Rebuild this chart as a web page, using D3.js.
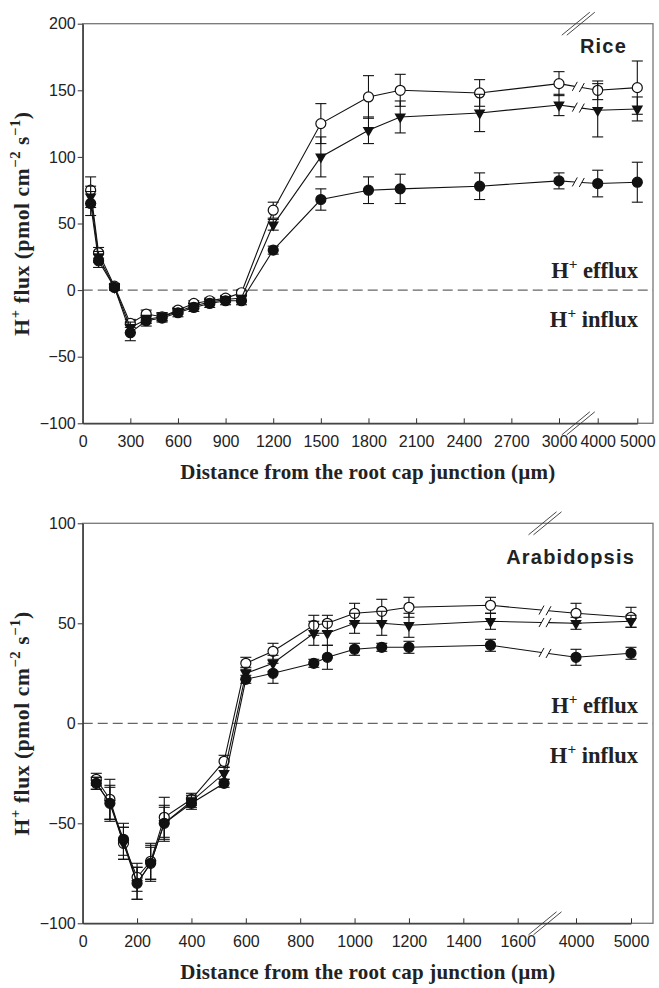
<!DOCTYPE html>
<html>
<head>
<meta charset="utf-8">
<script src="https://cdn.jsdelivr.net/npm/d3@7"></script>
<style>
  body { margin: 0; background: #fff; }
  .tick text { font-family: "Liberation Sans", Arial, sans-serif; font-size: 16px; fill: #222; }
  .lbl { font-family: "Liberation Serif", "Times New Roman", serif; font-weight: bold; fill: #222; }
  .species { font-family: "Liberation Sans", Arial, sans-serif; font-weight: bold; fill: #222; }
</style>
</head>
<body>
<div id="chart"></div>
<script>
// ---- Rice (top panel) ----
const riceX       = [50, 100, 200, 300, 400, 500, 600, 700, 800, 900, 1000, 1200, 1500, 1800, 2000, 2500, 3000, 4000, 5000];
const riceOpen    = [75, 28, 3, -25, -18, -20, -15, -10, -8, -6, -2, 60, 125, 145, 150, 148, 155, 150, 152];
const riceOpenErr = [10, 4, 2, 3, 3, 3, 2, 2, 2, 2, 2, 6, 15, 16, 12, 10, 9, 7, 20];
const riceTri     = [70, 25, 2, -28, -22, -20, -16, -12, -9, -7, -6, 49, 100, 120, 130, 133, 139, 135, 136];
const riceTriErr  = [8, 4, 2, 4, 3, 3, 2, 2, 2, 2, 2, 4, 15, 10, 12, 14, 8, 20, 9];
const riceFill    = [65, 22, 2, -32, -23, -21, -17, -13, -10, -8, -8, 30, 68, 75, 76, 78, 82, 80, 81];
const riceFillErr = [9, 5, 2, 6, 4, 3, 3, 3, 3, 3, 3, 3, 8, 10, 11, 10, 6, 10, 15];
const riceXTicks  = [0, 300, 600, 900, 1200, 1500, 1800, 2100, 2400, 2700, 3000, 4000, 5000];
const riceYTicks  = [-100, -50, 0, 50, 100, 150, 200];

// ---- Arabidopsis (bottom panel) ----
const araX       = [50, 100, 150, 200, 250, 300, 400, 520, 600, 700, 850, 900, 1000, 1100, 1200, 1500, 4000, 5000];
const araOpen    = [-28, -38, -60, -77, -69, -47, -38, -19, 30, 36, 49, 50, 55, 56, 58, 59, 55, 53];
const araOpenErr = [3, 10, 8, 7, 9, 10, 3, 3, 3, 4, 5, 4, 5, 6, 5, 4, 5, 5];
const araTri     = [-30, -40, -60, -80, -70, -50, -39, -25, 25, 30, 45, 45, 50, 50, 49, 51, 50, 51];
const araTriErr  = [3, 9, 8, 8, 9, 9, 3, 3, 3, 4, 6, 6, 5, 6, 6, 4, 3, 3];
const araFill    = [-30, -40, -58, -80, -70, -50, -40, -30, 22, 25, 30, 33, 37, 38, 38, 39, 33, 35];
const araFillErr = [3, 8, 8, 8, 8, 8, 3, 2, 2, 5, 2, 6, 3, 2, 3, 3, 4, 3];
const araXTicks  = [0, 200, 400, 600, 800, 1000, 1200, 1400, 1600, 4000, 5000];
const araYTicks  = [-100, -50, 0, 50, 100];

const W = 659, H = 988;
const svg = d3.select('#chart').append('svg')
  .attr('width', W).attr('height', H);

// superscript helper: parts = [[text, isSup], ...]
function richText(sel, parts, size) {
  parts.forEach(([t, sup], i) => {
    const prevSup = i > 0 && parts[i - 1][1];
    let dy = 0;
    if (sup && !prevSup) dy = -size * 0.42;
    if (!sup && prevSup) dy = size * 0.42;
    sel.append('tspan')
      .attr('dy', dy)
      .attr('font-size', sup ? size * 0.68 : size)
      .text(t);
  });
}

function drawPanel(p) {
  const g = svg.append('g');
  const x = d3.scaleLinear().domain(p.xDomain).range(p.xRange);
  const y = d3.scaleLinear().domain([p.yTicks[0], p.yTicks[p.yTicks.length - 1]]).range([p.bottom, p.top]);
  const left = p.xRange[0], right = p.right;

  // frame (top + right in gray)
  g.append('rect')
    .attr('x', left).attr('y', p.top)
    .attr('width', right - left).attr('height', p.bottom - p.top)
    .attr('fill', 'none').attr('stroke', '#777').attr('stroke-width', 1.3);

  // zero dashed line
  g.append('line')
    .attr('x1', left).attr('x2', right)
    .attr('y1', y(0)).attr('y2', y(0))
    .attr('stroke', '#666').attr('stroke-width', 1.2)
    .attr('stroke-dasharray', '10,5');

  // axes
  const yAxis = g.append('g')
    .attr('transform', `translate(${left},0)`)
    .call(d3.axisLeft(y).tickValues(p.yTicks).tickSize(5).tickSizeOuter(0).tickPadding(2));
  const xAxis = g.append('g')
    .attr('transform', `translate(0,${p.bottom})`)
    .call(d3.axisBottom(x).tickValues(p.xTicks).tickSize(-5).tickSizeOuter(0).tickPadding(12)
      .tickFormat(d3.format('d')));
  [yAxis, xAxis].forEach(a => {
    a.select('.domain').attr('stroke', '#333').attr('stroke-width', 1.3);
    a.selectAll('.tick line').attr('stroke', '#333').attr('stroke-width', 1);
  });
  xAxis.selectAll('.tick').filter(d => d === 0).select('line').remove();

  // "//" marks on top border and x axis
  [p.top, p.bottom].forEach(yy => {
    [-2.5, 2.5].forEach(off => {
      g.append('line')
        .attr('x1', p.breakX - 14 + off).attr('y1', yy + 11.5)
        .attr('x2', p.breakX + 14 + off).attr('y2', yy - 11.5)
        .attr('stroke', '#333').attr('stroke-width', 0.9);
    });
  });

  // series
  const series = [
    { ys: p.open, err: p.openErr, kind: 'open' },
    { ys: p.tri,  err: p.triErr,  kind: 'tri' },
    { ys: p.fill, err: p.fillErr, kind: 'fill' }
  ];
  const line = d3.line();
  const gap = 3.5;

  series.forEach(s => {
    const pts = p.xs.map((d, i) => [x(d), y(s.ys[i])]);
    const i = pts.findIndex(pt => pt[0] > p.breakX);
    const a = pts[i - 1], b = pts[i];
    const yAt = xx => a[1] + (b[1] - a[1]) * (xx - a[0]) / (b[0] - a[0]);
    const e1 = [p.breakX - gap, yAt(p.breakX - gap)];
    const e2 = [p.breakX + gap, yAt(p.breakX + gap)];
    const segs = [pts.slice(0, i).concat([e1]), [e2].concat(pts.slice(i))];

    g.selectAll(null).data(segs).join('path')
      .attr('d', line)
      .attr('fill', 'none').attr('stroke', '#111').attr('stroke-width', 1.1);

    // small slanted ticks at the break
    g.selectAll(null).data([e1, e2]).join('line')
      .attr('x1', d => d[0] - 2.5).attr('y1', d => d[1] + 4.5)
      .attr('x2', d => d[0] + 2.5).attr('y2', d => d[1] - 4.5)
      .attr('stroke', '#111').attr('stroke-width', 1);

    // error bars
    const eb = g.selectAll(null).data(p.xs.map((d, k) => ({ x: d, v: s.ys[k], e: s.err[k] })))
      .join('g');
    eb.append('line')
      .attr('x1', d => x(d.x)).attr('x2', d => x(d.x))
      .attr('y1', d => y(d.v - d.e)).attr('y2', d => y(d.v + d.e))
      .attr('stroke', '#111').attr('stroke-width', 1.1);
    [-1, 1].forEach(sg => {
      eb.append('line')
        .attr('x1', d => x(d.x) - 5.5).attr('x2', d => x(d.x) + 5.5)
        .attr('y1', d => y(d.v + sg * d.e)).attr('y2', d => y(d.v + sg * d.e))
        .attr('stroke', '#111').attr('stroke-width', 1.1);
    });

    // markers
    const mk = g.selectAll(null).data(p.xs.map((d, k) => [d, s.ys[k]])).join('g')
      .attr('transform', d => `translate(${x(d[0])},${y(d[1])})`);
    if (s.kind === 'tri') {
      mk.append('path')
        .attr('d', d3.symbol(d3.symbolTriangle, 58))
        .attr('transform', 'rotate(180)')
        .attr('fill', '#111');
    } else {
      mk.append('circle').attr('r', 5)
        .attr('fill', s.kind === 'open' ? '#fff' : '#111')
        .attr('stroke', '#111').attr('stroke-width', 1.2);
    }
  });

  // species label
  g.append('text').attr('class', 'species')
    .attr('x', p.speciesX).attr('y', p.speciesY)
    .attr('text-anchor', 'end').attr('font-size', 20)
    .attr('letter-spacing', 1.2)
    .text(p.species);

  // efflux / influx labels
  [['efflux', p.effluxY], ['influx', p.influxY]].forEach(([w, yy]) => {
    const t = g.append('text').attr('class', 'lbl')
      .attr('x', 638).attr('y', yy).attr('text-anchor', 'end');
    richText(t, [['H', false], ['+', true], [' ' + w, false]], 22.5);
  });

  // y label
  const yl = g.append('text').attr('class', 'lbl')
    .attr('text-anchor', 'middle').attr('letter-spacing', 0.6)
    .attr('transform', `translate(29,${(p.top + p.bottom) / 2}) rotate(-90)`);
  richText(yl, [['H', false], ['+', true], [' flux (pmol cm', false], ['\u22122', true],
    [' s', false], ['\u22121', true], [')', false]], 21.5);

  // x label
  g.append('text').attr('class', 'lbl')
    .attr('x', (left + right) / 2).attr('y', p.bottom + 56)
    .attr('text-anchor', 'middle').attr('font-size', 21).attr('letter-spacing', 0.2)
    .text('Distance from the root cap junction (\u00b5m)');
}

drawPanel({
  xs: riceX, open: riceOpen, openErr: riceOpenErr, tri: riceTri, triErr: riceTriErr,
  fill: riceFill, fillErr: riceFillErr,
  xDomain: [0, 3000, 4000, 5000], xRange: [82.7, 559, 597.7, 637.3], right: 653,
  top: 23.7, bottom: 423.3, breakX: 578.3,
  xTicks: riceXTicks, yTicks: riceYTicks,
  species: 'Rice', speciesX: 627, speciesY: 53,
  effluxY: 278, influxY: 327
});

drawPanel({
  xs: araX, open: araOpen, openErr: araOpenErr, tri: araTri, triErr: araTriErr,
  fill: araFill, fillErr: araFillErr,
  xDomain: [0, 1600, 4000, 5000], xRange: [82.7, 517.7, 576, 631], right: 653,
  top: 523.3, bottom: 923.3, breakX: 545,
  xTicks: araXTicks, yTicks: araYTicks,
  species: 'Arabidopsis', speciesX: 635, speciesY: 564,
  effluxY: 713, influxY: 763
});
</script>
</body>
</html>
